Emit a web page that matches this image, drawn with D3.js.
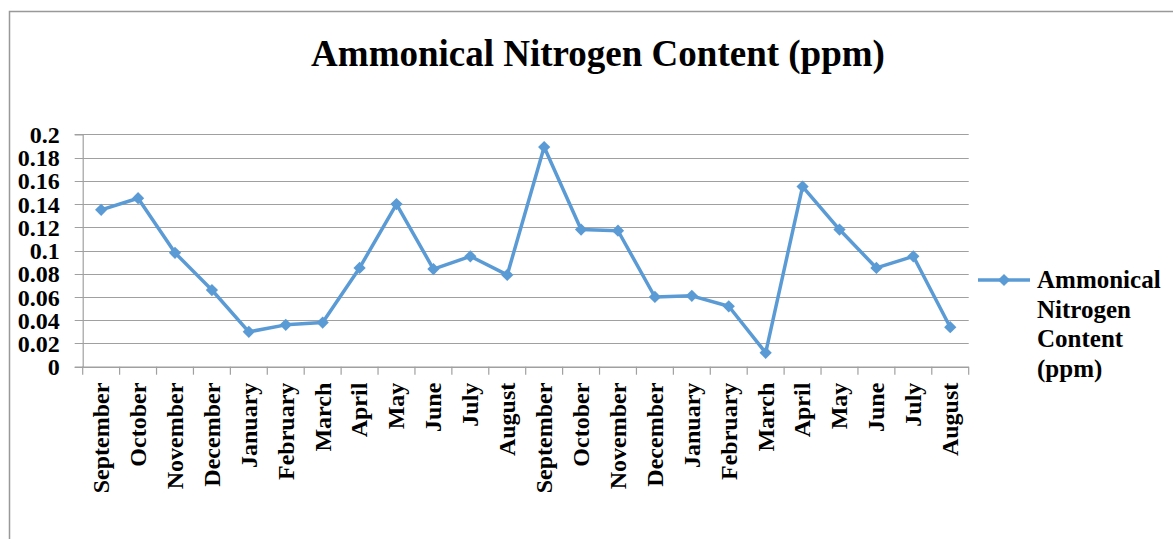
<!DOCTYPE html>
<html lang="en">
  <head>
    <meta charset="utf-8">
    <title>Ammonical Nitrogen Content (ppm)</title>
    <style>
      body { margin: 0; background: #fff; }
      text { font-family: "Liberation Serif", "Times New Roman", serif; font-weight: bold; fill: #000; }
    </style>
  </head>
  <body>
    <svg></svg>
    <script src="https://d3js.org/d3.v7.min.js"></script>
    <script type="text/javascript">
      // months, two years of readings
      var months = ["September","October","November","December","January","February","March",
                    "April","May","June","July","August",
                    "September","October","November","December","January","February","March",
                    "April","May","June","July","August"];
      var values = [0.135, 0.145, 0.098, 0.066, 0.030, 0.036, 0.038, 0.085, 0.140, 0.084, 0.095, 0.079,
                    0.189, 0.118, 0.117, 0.060, 0.061, 0.052, 0.012, 0.155, 0.118, 0.085, 0.095, 0.034];
      var yTicks = [0, 0.02, 0.04, 0.06, 0.08, 0.1, 0.12, 0.14, 0.16, 0.18, 0.2];
      var seriesName = ["Ammonical", "Nitrogen", "Content", "(ppm)"];

      var width = 1173, height = 539;
      var svg = d3.select("svg").attr("width", width).attr("height", height);

      // chart frame
      svg.append("path")
         .attr("d", "M9.5," + height + "V11.5H" + width)
         .attr("fill", "none")
         .attr("stroke", "#999")
         .attr("stroke-width", 1.5);

      svg.append("text")
         .attr("x", 598).attr("y", 66)
         .attr("text-anchor", "middle")
         .style("font-size", "37px")
         .text("Ammonical Nitrogen Content (ppm)");

      var plotLeft = 82.7, plotRight = 968.7, plotTop = 134.3, plotBottom = 366.7;

      var x = d3.scaleBand().domain(d3.range(months.length)).range([plotLeft, plotRight]);
      var y = d3.scaleLinear().domain([0, 0.2]).range([plotBottom, plotTop]);

      // gridlines
      svg.append("g")
         .selectAll("line")
         .data(yTicks)
         .enter()
         .append("line")
         .attr("x1", plotLeft - 8).attr("x2", plotRight)
         .attr("y1", function(d){ return Math.round(y(d)) + 0.5; })
         .attr("y2", function(d){ return Math.round(y(d)) + 0.5; })
         .style("stroke", "#a0a0a0")
         .style("stroke-width", 1.2);

      // y axis
      var yAxis = svg.append("g")
         .attr("transform", "translate(" + plotLeft + ",0)")
         .call(d3.axisLeft(y).tickValues(yTicks).tickSize(8).tickPadding(15)
                 .tickFormat(function(d){ return String(+d.toFixed(2)); }));
      yAxis.select(".domain").attr("stroke", "#a0a0a0").attr("stroke-width", 1.2);
      yAxis.selectAll(".tick line").remove();
      yAxis.selectAll("text").style("font-size", "24px").attr("dy", "0.34em");

      // x axis: ticks at category boundaries
      var bounds = d3.range(months.length + 1).map(function(i){ return plotLeft + i * x.step(); });
      svg.append("line")
         .attr("x1", plotLeft).attr("x2", plotRight)
         .attr("y1", plotBottom + 0.5).attr("y2", plotBottom + 0.5)
         .style("stroke", "#a0a0a0").style("stroke-width", 1.2);
      svg.append("g")
         .selectAll("line")
         .data(bounds)
         .enter()
         .append("line")
         .attr("x1", function(d){ return d; }).attr("x2", function(d){ return d; })
         .attr("y1", plotBottom).attr("y2", plotBottom + 8)
         .style("stroke", "#a0a0a0").style("stroke-width", 1.2);

      svg.append("g")
         .selectAll("text")
         .data(months)
         .enter()
         .append("text")
         .attr("transform", function(d, i){
           return "translate(" + (x(i) + x.bandwidth() / 2) + "," + (plotBottom + 16) + ") rotate(-90)";
         })
         .attr("text-anchor", "end")
         .attr("dy", "0.33em")
         .style("font-size", "24px")
         .text(function(d){ return d; });

      // series
      var line = d3.line()
         .x(function(d, i){ return x(i) + x.bandwidth() / 2; })
         .y(function(d){ return y(d); });

      svg.append("path")
         .datum(values)
         .attr("d", line)
         .attr("fill", "none")
         .attr("stroke", "#5b9bd5")
         .attr("stroke-width", 3.5)
         .attr("stroke-linejoin", "round");

      var diamond = d3.symbol().type(d3.symbolSquare).size(75);
      svg.append("g")
         .selectAll("path")
         .data(values)
         .enter()
         .append("path")
         .attr("d", diamond)
         .attr("transform", function(d, i){
           return "translate(" + (x(i) + x.bandwidth() / 2) + "," + y(d) + ") rotate(45)";
         })
         .attr("fill", "#5b9bd5");

      // legend
      var lg = svg.append("g").attr("transform", "translate(978,280)");
      lg.append("line").attr("x1", 0).attr("x2", 52).attr("y1", 0).attr("y2", 0)
        .attr("stroke", "#5b9bd5").attr("stroke-width", 3.5);
      lg.append("path").attr("d", diamond).attr("transform", "translate(26,0) rotate(45)")
        .attr("fill", "#5b9bd5");
      lg.append("text")
        .attr("x", 59).attr("y", 8)
        .style("font-size", "25px")
        .selectAll("tspan")
        .data(seriesName)
        .enter()
        .append("tspan")
        .attr("x", 59)
        .attr("dy", function(d, i){ return i ? 29.5 : 0; })
        .text(function(d){ return d; });
    </script>
  </body>
</html>
